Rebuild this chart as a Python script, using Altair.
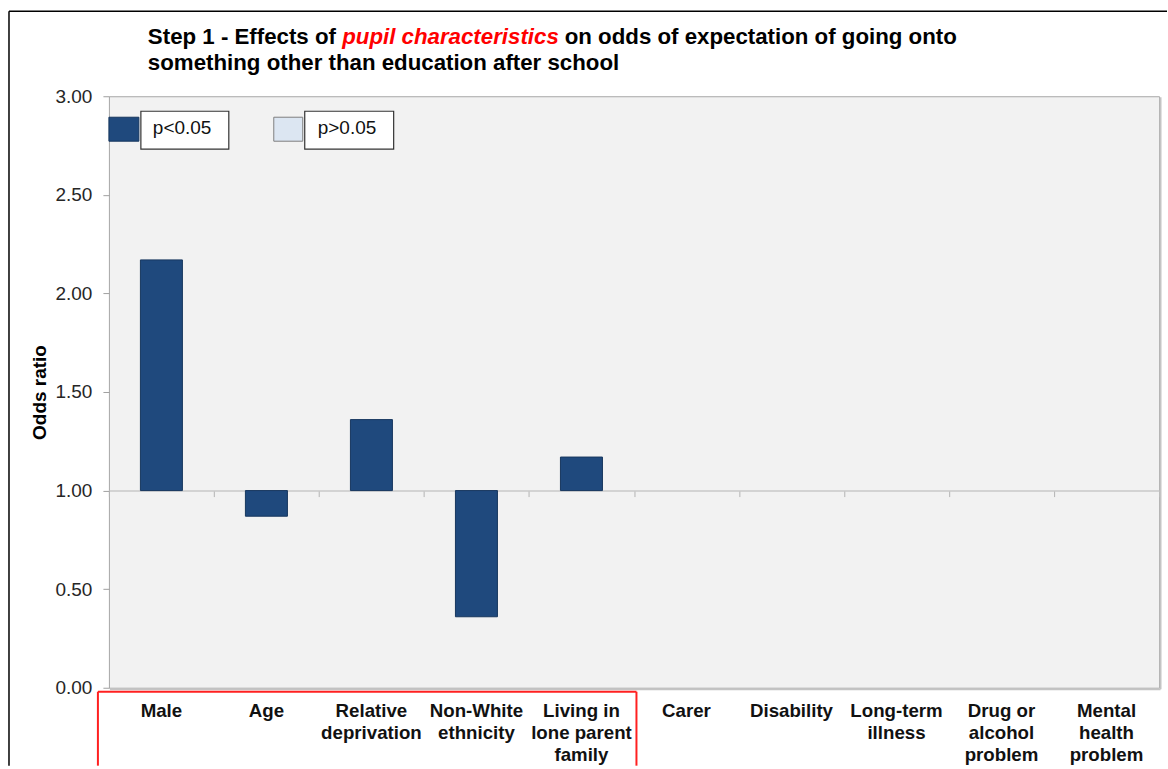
import altair as alt
import pandas as pd

FONT = "Liberation Sans"

# Pupil characteristics and their odds ratios (bars drawn from 1.00)
factors = [
    "Male", "Age", "Relative deprivation", "Non-White ethnicity",
    "Living in lone parent family", "Carer", "Disability",
    "Long-term illness", "Drug or alcohol problem", "Mental health problem",
]
factor_lines = [
    ["Male"], ["Age"], ["Relative", "deprivation"], ["Non-White", "ethnicity"],
    ["Living in", "lone parent", "family"], ["Carer"], ["Disability"],
    ["Long-term", "illness"], ["Drug or", "alcohol", "problem"],
    ["Mental", "health", "problem"],
]
odds_ratio = [2.17, 0.87, 1.36, 0.36, 1.17, None, None, None, None, None]
significance = ["p<0.05"] * 5 + [None] * 5

sig_levels = ["p<0.05", "p>0.05"]
sig_colors = ["#1f497d", "#dce6f2"]

y_ticks = [0.0, 0.5, 1.0, 1.5, 2.0, 2.5, 3.0]

title_line1 = ["Step 1 - Effects of ", "pupil characteristics",
               " on odds of expectation of going onto"]
title_line2 = "something other than education after school"

W, H = 1051, 592

df = pd.DataFrame({
    "factor": factors,
    "label": ["\n".join(lines) for lines in factor_lines],
    "odds": odds_ratio,
    "sig": significance,
})

# category axis sits on the 1.00 reference line, ticks between categories
x_axis = alt.Axis(
    labels=False, title=None, grid=False,
    domain=True, domainColor="#c8c8c8", domainWidth=1.5,
    ticks=True, tickColor="#b4b4b4", tickSize=6, tickWidth=1,
    tickBand="extent", offset=-H / 3,
)
x_enc = alt.X(
    "factor:N", sort=factors,
    scale=alt.Scale(domain=factors, paddingInner=0, paddingOuter=0),
    axis=x_axis,
)
y_enc = alt.Y(
    "odds:Q",
    scale=alt.Scale(domain=[0, 3], nice=False, zero=False),
    axis=alt.Axis(
        values=y_ticks, format=".2f", title="Odds ratio", grid=False,
        domain=False, ticks=True, tickColor="#a0a0a0", tickSize=6,
        labelFont=FONT, labelFontSize=19, labelColor="#262626",
        labelPadding=11,
        titleFont=FONT, titleFontSize=19, titleFontWeight="bold",
        titleColor="#000000", titlePadding=5,
    ),
)

bars = alt.Chart(df).mark_bar(
    width=alt.RelativeBandSize(0.4), stroke="#17375e", strokeWidth=1,
).encode(
    x=x_enc,
    y=y_enc,
    y2=alt.datum(1),
    color=alt.Color("sig:N", scale=alt.Scale(domain=sig_levels, range=sig_colors),
                    legend=None),
)

cat_labels = alt.Chart(df).mark_text(
    lineBreak="\n", align="center", baseline="alphabetic",
    font=FONT, fontSize=18.7, fontWeight="bold", lineHeight=22, color="#111111",
).encode(x=x_enc, y=alt.value(H + 29), text="label:N")

one = pd.DataFrame({"k": [0]})


def rule(x, y, x2, y2, **kw):
    return alt.Chart(one).mark_rule(**kw).encode(
        x=alt.value(x), y=alt.value(y), x2=alt.value(x2), y2=alt.value(y2))


def box(x, y, x2, y2, **kw):
    return alt.Chart(one).mark_rect(**kw).encode(
        x=alt.value(x), y=alt.value(y), x2=alt.value(x2), y2=alt.value(y2))


def label(x, y, s, **kw):
    style = dict(align="left", baseline="alphabetic", font=FONT,
                 fontSize=22.3, fontWeight="bold", color="#000000")
    style.update(kw)
    return alt.Chart(one).mark_text(**style).encode(
        x=alt.value(x), y=alt.value(y), text=alt.value(s))


# two-line heading with the highlighted phrase
heading = [
    label(39, -52, title_line1[0]),
    label(233.5, -52, title_line1[1], color="#ff0000", fontStyle="italic"),
    label(456.2, -52, title_line1[2]),
    label(39, -26, title_line2),
]

# key in the top-left corner of the plot
key = [
    box(0, 21, 30, 45, fill=sig_colors[0], stroke="#17375e", strokeWidth=1),
    box(32, 15, 120, 53, fill="#ffffff", stroke="#333333", strokeWidth=1.2),
    label(44, 38, sig_levels[0], fontSize=19, fontWeight="normal", color="#111111"),
    box(165, 21, 194, 45, fill=sig_colors[1], stroke="#7f7f7f", strokeWidth=1),
    box(196, 15, 285, 53, fill="#ffffff", stroke="#333333", strokeWidth=1.2),
    label(209, 38, sig_levels[1], fontSize=19, fontWeight="normal", color="#111111"),
]

# plot-area shadow, outer frame and the red bracket around the first five labels
frame = [
    rule(W + 1.5, 1, W + 1.5, H + 1.5, color="#c4c4c4", strokeWidth=2),
    rule(1, H + 1.5, W + 1.5, H + 1.5, color="#c4c4c4", strokeWidth=2),
    rule(-100, -85, 1059, -85, color="#000000", strokeWidth=1.5),
    rule(-100, -85, -100, 670, color="#000000", strokeWidth=1.5),
    rule(-11, 596, 528, 596, color="#ff2020", strokeWidth=2),
    rule(-11, 596, -11, 670, color="#ff2020", strokeWidth=2),
    rule(528, 596, 528, 670, color="#ff2020", strokeWidth=2),
]

chart = alt.layer(
    bars, cat_labels, *heading, *key, *frame,
).properties(
    width=W, height=H,
    padding={"left": 8, "top": 10, "right": 0, "bottom": 0},
    background="#ffffff",
).configure_view(
    fill="#f2f2f2", stroke="#a6a6a6", strokeWidth=1,
)

chart.save("out.html", embed_options={"renderer": "svg", "actions": False})
